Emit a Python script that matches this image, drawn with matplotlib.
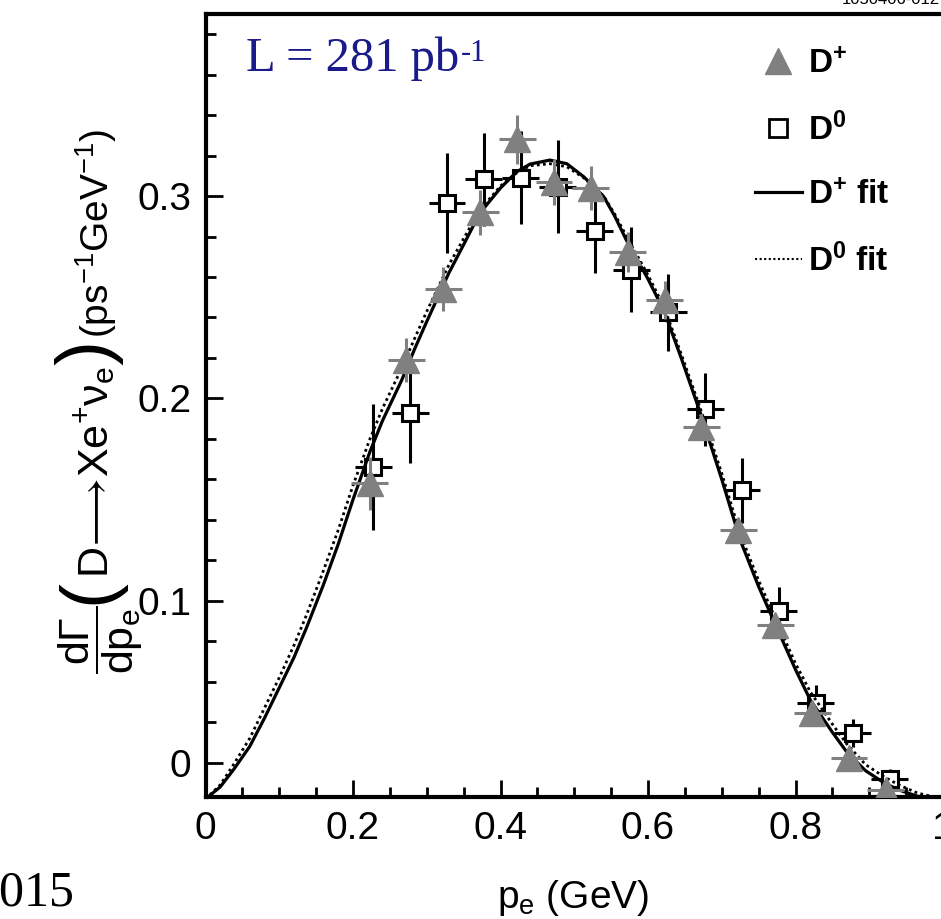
import matplotlib
matplotlib.use("Agg")
import matplotlib.pyplot as plt
from matplotlib.lines import Line2D
from matplotlib.ticker import MultipleLocator, FixedLocator

plt.rcParams['font.family'] = ['Liberation Sans', 'DejaVu Sans']
plt.rcParams['mathtext.fontset'] = 'custom'
plt.rcParams['mathtext.rm'] = 'Liberation Sans'
plt.rcParams['mathtext.it'] = 'Liberation Sans:italic'
plt.rcParams['mathtext.bf'] = 'Liberation Sans:bold'

# ---- data ----
dplus_x = [0.2225, 0.2725, 0.3225, 0.3725, 0.4225, 0.4725, 0.5225, 0.5725,
           0.6225, 0.6725, 0.7225, 0.7725, 0.8225, 0.8725, 0.9225]
dplus_y = [0.158, 0.219, 0.254, 0.292, 0.328, 0.307, 0.304, 0.2725,
           0.2486, 0.186, 0.135, 0.088, 0.0445, 0.0223, 0.0063]
dplus_err = [0.013, 0.011, 0.011, 0.011, 0.012, 0.0115, 0.011, 0.010,
             0.0095, 0.0065, 0.006, 0.006, 0.005, 0.005, 0.004]

dzero_x = [0.2275, 0.2775, 0.3275, 0.3775, 0.4275, 0.4775, 0.5275, 0.5775,
           0.6275, 0.6775, 0.7275, 0.7775, 0.8275, 0.8775, 0.9275]
dzero_y = [0.166, 0.193, 0.2967, 0.3084, 0.309, 0.3046, 0.2829, 0.2635,
           0.2426, 0.1947, 0.1545, 0.0947, 0.0495, 0.0347, 0.012]
dzero_err = [0.031, 0.025, 0.0247, 0.023, 0.023, 0.023, 0.021, 0.021,
             0.019, 0.018, 0.016, 0.012, 0.009, 0.007, 0.005]
bin_half = 0.025

fit_x = [0.0, 0.02, 0.038, 0.06, 0.08, 0.10, 0.12, 0.137, 0.16, 0.18, 0.20,
         0.223, 0.24, 0.266, 0.284, 0.30, 0.33, 0.35, 0.372, 0.40, 0.422,
         0.44, 0.467, 0.49, 0.513, 0.54, 0.555, 0.571, 0.60, 0.622, 0.645,
         0.671, 0.70, 0.725, 0.75, 0.773, 0.80, 0.82, 0.85, 0.87, 0.895,
         0.92, 0.94, 0.965, 1.0]
fit_plus_y = [0.002, 0.008, 0.0165, 0.028, 0.042, 0.057, 0.072, 0.0867, 0.108,
              0.128, 0.150, 0.1737, 0.189, 0.209, 0.2248, 0.238, 0.262, 0.276,
              0.2916, 0.304, 0.312, 0.3158, 0.3178, 0.316, 0.3095, 0.2997,
              0.290, 0.278, 0.259, 0.243, 0.220, 0.1928, 0.160, 0.130, 0.107,
              0.088, 0.066, 0.051, 0.035, 0.025, 0.016, 0.010, 0.0065, 0.0034,
              0.002]
fit_zero_y = [0.002, 0.009, 0.019, 0.032, 0.047, 0.062, 0.078, 0.093, 0.115,
              0.135, 0.157, 0.180, 0.195, 0.215, 0.230, 0.243, 0.266, 0.279,
              0.293, 0.305, 0.3115, 0.315, 0.316, 0.3145, 0.309, 0.300, 0.291,
              0.280, 0.261, 0.245, 0.222, 0.195, 0.163, 0.133, 0.110, 0.091,
              0.069, 0.055, 0.039, 0.029, 0.019, 0.013, 0.009, 0.005, 0.002]

ytick_vals = [0.02, 0.1, 0.2, 0.3]
ytick_labels = ["0", "0.1", "0.2", "0.3"]
xtick_vals = [0, 0.2, 0.4, 0.6, 0.8, 1.0]
xtick_labels = ["0", "0.2", "0.4", "0.6", "0.8", "1"]

ylabel_parts = [r'$\dfrac{\mathrm{d\Gamma}}{\mathrm{dp_e}}$', '(',
                r'$\mathrm{D\!\longrightarrow\! Xe^{+}\nu_e}$', ')',
                r'$\mathrm{(ps^{-1}GeV^{-1})}$']
ylabel_sizes = [31, 54, 31, 54, 28]

# ---- figure ----
W, H = 941, 919
fig = plt.figure(figsize=(W / 100, H / 100), dpi=100)
left_px, right_px, top_px, bot_px = 205.5, 943, 14, 797
ax = fig.add_axes([left_px / W, (H - bot_px) / H,
                   (right_px - left_px) / W, (bot_px - top_px) / H])
ax.set_xlim(0, 1.0)
ax.set_ylim(0.003, 0.39)

gray = '#808080'
ax.errorbar(dzero_x, dzero_y, xerr=bin_half, yerr=dzero_err, fmt='s',
            ms=12, mfc='white', mec='black', mew=2.2, ecolor='black',
            elinewidth=2.2, capsize=0, zorder=3)
ax.plot(fit_x, fit_plus_y, color='black', lw=2.3, zorder=4,
        solid_joinstyle='round')
ax.plot(fit_x, fit_zero_y, color='black', lw=2.0, ls=(0, (1, 1.2)), zorder=4)
ax.errorbar(dplus_x, dplus_y, xerr=bin_half, yerr=dplus_err, fmt='^',
            ms=19, color=gray, mec=gray, ecolor=gray,
            elinewidth=2.2, capsize=0, zorder=5)

# ticks
ax.xaxis.set_major_locator(FixedLocator(xtick_vals))
ax.set_xticklabels(xtick_labels)
ax.xaxis.set_minor_locator(MultipleLocator(0.05))
ax.yaxis.set_major_locator(FixedLocator(ytick_vals))
ax.set_yticklabels(ytick_labels)
ax.yaxis.set_minor_locator(MultipleLocator(0.02))
ax.tick_params(which='both', direction='in', top=False, right=False, width=2)
ax.tick_params(which='major', length=12, labelsize=28, pad=10)
ax.tick_params(which='minor', length=7)
for s in ['left', 'bottom', 'top']:
    ax.spines[s].set_linewidth(3)
ax.spines['right'].set_visible(False)

ax.set_xlabel(r'p$_\mathrm{e}$ (GeV)', fontsize=28)
ax.xaxis.set_label_coords(0.498, -0.103)

# y label built from pieces (big parentheses), stacked bottom to top
base_x_px = 109
prev = fig.text(base_x_px / W, (H - 674) / H, ylabel_parts[0],
                fontsize=ylabel_sizes[0], rotation=90, rotation_mode='anchor',
                ha='left', va='baseline')
for part, size in zip(ylabel_parts[1:], ylabel_sizes[1:]):
    prev = ax.annotate(part, xy=(base_x_px, 1.0), xycoords=('figure pixels', prev),
                       xytext=(0, 1), textcoords='offset points',
                       fontsize=size, rotation=90, rotation_mode='anchor',
                       ha='left', va='baseline', annotation_clip=False)

t = ax.text(0.055, 0.362, 'L = 281 pb', fontsize=35,
            color='#1a1a8a', family='Liberation Serif', va='baseline')
ax.annotate('-1', xy=(1, 1), xycoords=t, xytext=(1, -2), textcoords='offset points',
            fontsize=22, color='#1a1a8a', family='Liberation Serif',
            ha='left', va='top')

handles = [Line2D([], [], marker='^', color=gray, ls='none', ms=19),
           Line2D([], [], marker='s', mfc='white', mec='black', mew=2, ls='none', ms=13),
           Line2D([], [], color='black', lw=2.3),
           Line2D([], [], color='black', lw=1.5, ls=(0, (1, 1.2)))]
labels = [r'$\mathbf{D^{+}}$', r'$\mathbf{D^{0}}$', r'$\mathbf{D^{+}}$ fit', r'$\mathbf{D^{0}}$ fit']
leg = ax.legend(handles, labels, loc='upper left', bbox_to_anchor=(755 / W, (H - 49) / H),
                bbox_transform=fig.transFigure, frameon=False,
                prop={'weight': 'bold', 'size': 24}, handlelength=1.4,
                handletextpad=0.2, labelspacing=0.98, borderpad=0, borderaxespad=0)

fig.text(75 / W, (H - 905) / H, '2015', ha='right', va='baseline',
         family='Liberation Serif', fontsize=36)
fig.text(940 / W, 1.0, '1050406-012', ha='right', va='center', fontsize=12)

fig.savefig('out.png', dpi=100)
